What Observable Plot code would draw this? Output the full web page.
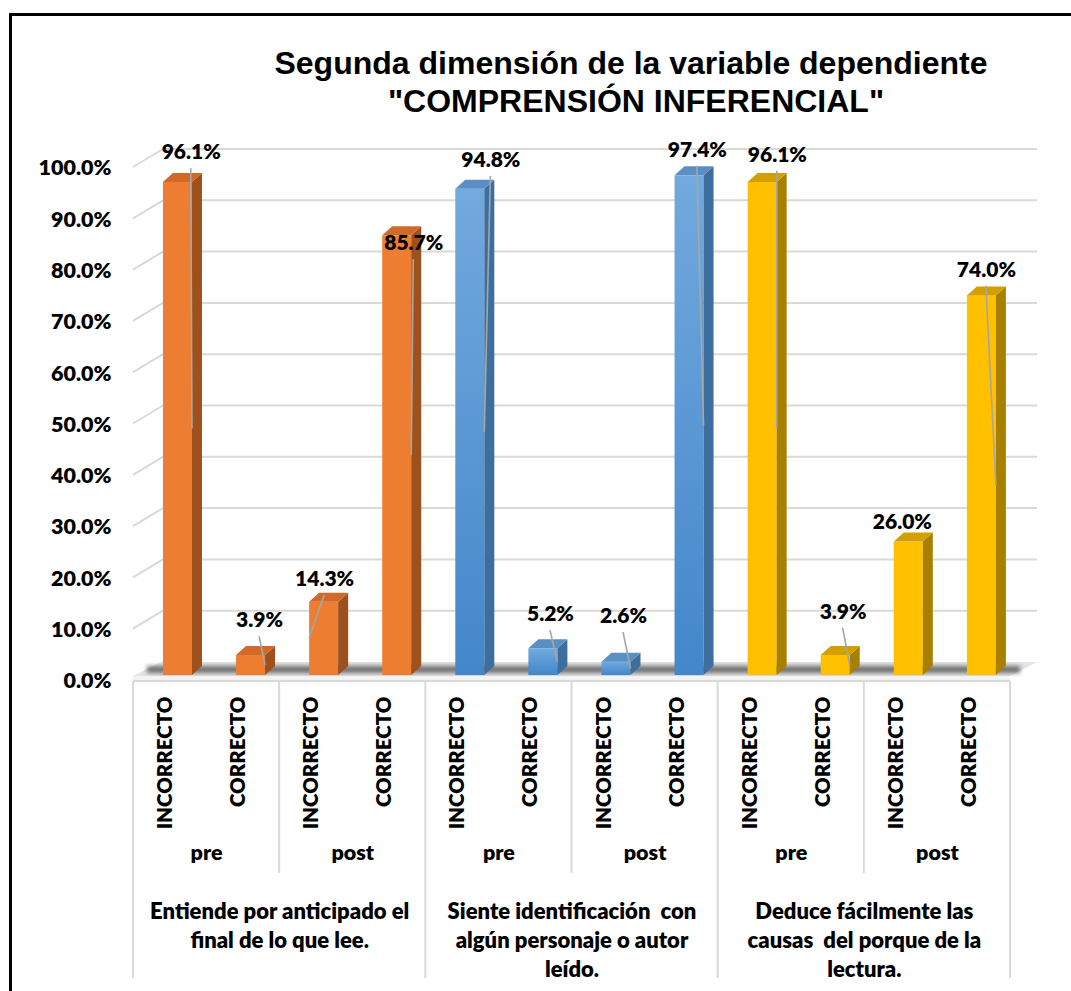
<!DOCTYPE html>
<html><head><meta charset="utf-8">
<script src="https://cdn.jsdelivr.net/npm/d3@7"></script>
<script src="https://cdn.jsdelivr.net/npm/@observablehq/plot@0.6"></script>
<style>
html,body{margin:0;padding:0;background:#fff;}
#wrap{position:relative;width:1071px;height:991px;overflow:hidden;background:#fff;}
#chart{position:absolute;left:0;top:0;}
#frame{position:absolute;left:9px;top:13px;width:1300px;height:1300px;border:3.5px solid #000;box-sizing:border-box;pointer-events:none;}
.t{position:absolute;font-family:"Liberation Sans",Arial,sans-serif;font-weight:bold;font-size:32px;line-height:32px;white-space:nowrap;transform:translateX(-50%);color:#000;}
</style></head><body>
<div id="wrap">
<div id="chart"></div>
<div id="frame"></div>
<div class="t" style="left:631px;top:47px">Segunda dimensión de la variable dependiente</div>
<div class="t" style="left:636px;top:85px">"COMPRENSIÓN INFERENCIAL"</div>
</div>
<script>
// ---- data ----
const groupLabels = [
  "Entiende por anticipado el\nfinal de lo que lee.",
  "Siente identificación  con\nalgún personaje o autor\nleído.",
  "Deduce fácilmente las\ncausas  del porque de la\nlectura."
];
const phases = ["pre", "post"];
const answers = ["INCORRECTO", "CORRECTO"];
const entiende = [96.1, 3.9, 14.3, 85.7];
const siente = [94.8, 5.2, 2.6, 97.4];
const deduce = [96.1, 3.9, 26.0, 74.0];
const yTicks = [0, 10, 20, 30, 40, 50, 60, 70, 80, 90, 100];
// manually placed data labels (as in the source): height in % units, horizontal place within the bar slot
const labelAt = [101.9, 10.7, 18.7, 84.2, 100.4, 11.9, 11.5, 102.4, 101.4, 12.3, 29.8, 79.0];
const labelSlot = [0.79, 0.725, 0.615, 0.835, 0.89, 0.705, 0.705, 0.715, 0.81, 0.71, 0.52, 0.67];
const leaderSide = ["r", "r", "l", "r", "r", "r", "r", "r", "r", "r", "", "r"];

// ---- styles ----
const FRONT = ["#ED7D31", "url(#gBlue)", "#FFC000"];
const SIDE = ["#9E501D", "#3D6E9E", "#A78000"];
const TOP = ["#CF6A29", "#5A8FC6", "#D4A000"];
const FX1 = 0.41, FX2 = 0.807, DX = 10, DY = 9;

const series = [entiende, siente, deduce];
const rows = [];
series.forEach((vals, g) => vals.forEach((v, k) => {
  const i = g * 4 + k;
  rows.push({i, g, phase: phases[k >> 1], answer: answers[k % 2], value: v,
    lx: i + labelSlot[i], ly: labelAt[i], leader: leaderSide[i]});
}));

const svgEl = (tag) => document.createElementNS("http://www.w3.org/2000/svg", tag);
const poly = (pts, fill) => { const p = svgEl("polygon"); p.setAttribute("points", pts.map(q => q.join(",")).join(" ")); p.setAttribute("fill", fill); return p; };
const line = (x1, y1, x2, y2, stroke, w) => { const l = svgEl("line"); l.setAttribute("x1", x1); l.setAttribute("y1", y1); l.setAttribute("x2", x2); l.setAttribute("y2", y2); l.setAttribute("stroke", stroke); l.setAttribute("stroke-width", w); return l; };

// back walls, grid, floor
function chrome(index, scales) {
  const {x, y} = scales;
  const g = svgEl("g");
  const defs = svgEl("defs");
  defs.innerHTML = `<linearGradient id="gBlue" x1="0" y1="0" x2="0" y2="1"><stop offset="0" stop-color="#72A9DE"/><stop offset="1" stop-color="#4387CA"/></linearGradient>
  <filter id="blur" x="-5%" y="-100%" width="110%" height="300%"><feGaussianBlur stdDeviation="2.2"/></filter>`;
  g.appendChild(defs);
  const x0 = x(0), x12 = x(12);
  for (const v of yTicks) {
    if (v === 0) continue;
    g.appendChild(line(x0, y(v) + 5, x0 + 30, y(v) - 13, "#d9d9d9", 2));
    g.appendChild(line(x0 + 30, y(v) - 13, x12 + 27, y(v) - 13, "#d9d9d9", 2));
  }
  const yb = y(0);
  g.appendChild(poly([[x0, yb + 1], [x0 + 28, yb - 13], [x12 + 27, yb - 13], [x12, yb + 1]], "#e4e4e4"));
  const r = svgEl("rect");
  r.setAttribute("x", x0 + 14); r.setAttribute("y", yb - 9); r.setAttribute("width", x12 - x0 - 4); r.setAttribute("height", 7);
  r.setAttribute("fill", "#4a4a4a"); r.setAttribute("opacity", "0.75"); r.setAttribute("filter", "url(#blur)");
  g.appendChild(r);
  const lip = svgEl("rect");
  lip.setAttribute("x", x0); lip.setAttribute("y", yb + 1); lip.setAttribute("width", x12 - x0); lip.setAttribute("height", 5);
  lip.setAttribute("fill", "#f3f3f3");
  g.appendChild(lip);
  g.appendChild(line(x0, yb + 6, x12, yb + 6, "#d9d9d9", 2));
  return g;
}

// category table lines
function table(index, scales) {
  const {x, y} = scales;
  const g = svgEl("g");
  const yb = y(0);
  for (const k of [0, 4, 8, 12]) g.appendChild(line(x(k), yb + 6, x(k), yb + 303, "#d9d9d9", 2));
  for (const k of [2, 6, 10]) g.appendChild(line(x(k), yb + 6, x(k), yb + 198, "#d9d9d9", 2));
  return g;
}

// side and top faces of the 3-D bars
function faces(index, scales) {
  const {x, y} = scales;
  const g = svgEl("g");
  for (const d of rows) {
    const fx1 = x(d.i + FX1), fx2 = x(d.i + FX2), yt = y(d.value), y0 = y(0);
    g.appendChild(poly([[fx2, yt], [fx2 + DX, yt - DY], [fx2 + DX, y0 - DY], [fx2, y0]], SIDE[d.g]));
    g.appendChild(poly([[fx1, yt], [fx1 + DX, yt - DY], [fx2 + DX, yt - DY], [fx2, yt]], TOP[d.g]));
  }
  return g;
}

// leader lines from moved labels to the bars
function leaders(index, scales) {
  const {x, y} = scales;
  const g = svgEl("g");
  for (const d of rows) {
    if (!d.leader) continue;
    const ex = d.leader === "l" ? x(d.i + FX1) : x(d.i + FX2);
    g.appendChild(line(x(d.lx), y(d.ly) + 16, ex, y(d.value / 2), "#a6a6a6", 1.6));
  }
  return g;
}

const txt = {fontFamily: "Lato", fontWeight: 800, fill: "#000"};

const plot = Plot.plot({
  width: 1071,
  height: 991,
  marginLeft: 133,
  marginRight: 61,
  marginTop: 162,
  marginBottom: 316,
  x: {type: "linear", domain: [0, 12], axis: null},
  y: {type: "linear", domain: [0, 100], axis: null},
  style: {background: "transparent", overflow: "visible", whiteSpace: "pre", fontFamily: "Lato"},
  marks: [
    chrome,
    ...[0, 1, 2].map(g => Plot.rectY(rows.filter(d => d.g === g), {
      x1: d => d.i + FX1, x2: d => d.i + FX2, y1: 0, y2: "value", fill: FRONT[g]
    })),
    faces,
    leaders,
    Plot.text(rows, {x: "lx", y: "ly", text: d => d.value.toFixed(1) + "%", fontSize: 21, ...txt}),
    Plot.text(yTicks, {frameAnchor: "left", y: d => d, text: d => d.toFixed(1) + "%", textAnchor: "end", dx: -22, dy: 6, fontSize: 21.5, ...txt}),
    table,
    Plot.text(rows, {x: d => d.i + 0.5, text: "answer", rotate: -90, textAnchor: "end", frameAnchor: "bottom", dy: 21, dx: 2, fontSize: 20.5, ...txt}),
    Plot.text([0, 1, 2, 3, 4, 5], {x: j => 2 * j + 1, text: j => phases[j % 2], frameAnchor: "bottom", dy: 184, fontSize: 21.5, ...txt}),
    Plot.text(groupLabels, {x: (d, i) => 4 * i + 2, text: d => d, frameAnchor: "bottom", lineAnchor: "top", dy: 222.4, lineHeight: 1.32, fontSize: 22, ...txt})
  ]
});
document.getElementById("chart").appendChild(plot);
</script>
</body></html>
